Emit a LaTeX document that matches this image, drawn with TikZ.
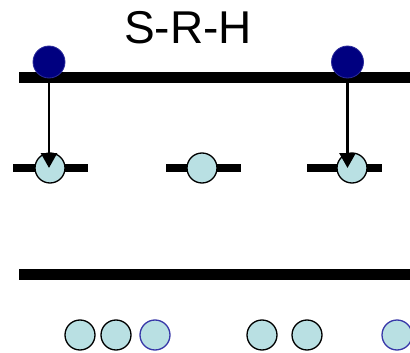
\documentclass[tikz,border=0pt]{standalone}
\usepackage{fontspec}
\setmainfont{Liberation Sans}
\usetikzlibrary{arrows.meta}
\definecolor{navyfill}{HTML}{000080}
\definecolor{navyedge}{HTML}{2B2B9A}
\definecolor{lightfill}{HTML}{B9E0E3}
\definecolor{blueedge}{HTML}{3838A8}
\tikzset{
  bar/.style={line width=11pt},
  shortbar/.style={line width=7.5pt},
  topdot/.style={circle, fill=navyfill, draw=navyedge, line width=0.8pt, minimum size=32pt, inner sep=0pt},
  lightdot/.style={circle, fill=lightfill, draw=black, line width=1.3pt, minimum size=30pt, inner sep=0pt},
  bluedot/.style={lightdot, draw=blueedge},
  arr/.style={line width=2.8pt, -{Triangle[length=15pt,width=16pt]}}
}
\begin{document}
\begin{tikzpicture}[x=1pt,y=-1pt]
\useasboundingbox (0,0) rectangle (410,353);
% title
\node (title) at (188,28) {\fontsize{46}{46}\selectfont S-R-H};
% bars
\coordinate (b1l) at (19,77.5);
\coordinate (b1r) at (412,77.5);
\coordinate (b2l) at (19,274);
\coordinate (b2r) at (412,274);
\draw[bar] (b1l) -- (b1r);
\draw[bar] (b2l) -- (b2r);
\coordinate (sb1l) at (13,168); \coordinate (sb1r) at (88,168);
\coordinate (sb2l) at (166,168); \coordinate (sb2r) at (241,168);
\coordinate (sb3l) at (307,168); \coordinate (sb3r) at (382,168);
\draw[shortbar] (sb1l) -- (sb1r);
\draw[shortbar] (sb2l) -- (sb2r);
\draw[shortbar] (sb3l) -- (sb3r);
% middle circles
\node[lightdot] (m1) at (50,168) {};
\node[lightdot] (m2) at (202,168) {};
\node[lightdot] (m3) at (352,168) {};
% top circles and arrows
\coordinate (s1c) at (49,62);
\coordinate (s2c) at (347.5,62);
\draw[arr] (s1c) -- (s1c |- m1.center);
\draw[arr] (s2c) -- (s2c |- m3.center);
\node[topdot] (s1) at (s1c) {};
\node[topdot] (s2) at (s2c) {};
% bottom circles
\node[lightdot] (c1) at (80,335) {};
\node[lightdot] (c2) at (116,335) {};
\node[bluedot] (c3) at (155,335) {};
\node[lightdot] (c4) at (262,335) {};
\node[lightdot] (c5) at (307,335) {};
\node[bluedot] (c6) at (397,335) {};
\end{tikzpicture}
\end{document}
